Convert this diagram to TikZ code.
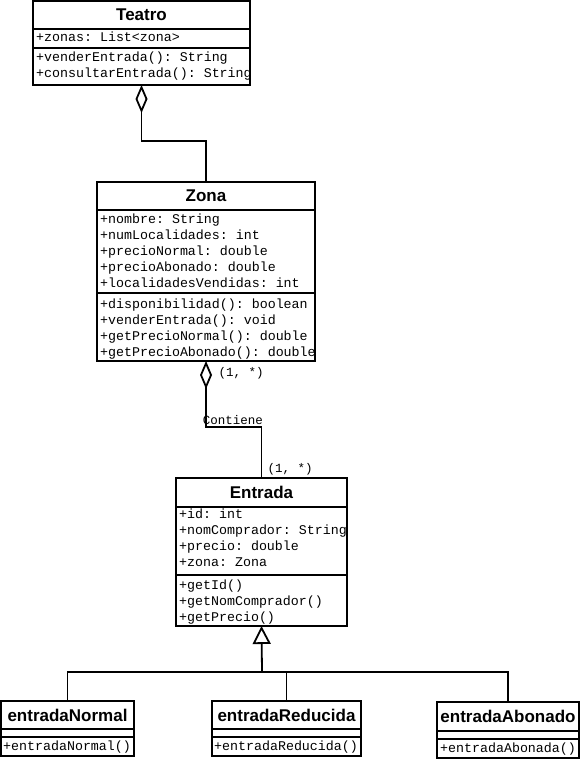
\documentclass[tikz,border=0pt]{standalone}
\usepackage{fontspec}
\setmainfont{Liberation Sans}
\setmonofont{Liberation Mono}
\usetikzlibrary{arrows.meta}
\newcommand\clsTitleFont{\normalfont\bfseries\fontsize{17}{20}\selectfont}
\newcommand\clsMemFont{\ttfamily\fontsize{13.3}{16}\selectfont}
\newcommand\clsLblFont{\ttfamily\fontsize{12.5}{15}\selectfont}
\tikzset{
  cls/.style={draw, line width=1.8pt, inner sep=0pt, outer sep=0pt, anchor=north west, fill=white, font=\clsTitleFont},
  mem/.style={anchor=base west, inner sep=0pt, font=\clsMemFont},
  lbl/.style={inner sep=0pt, font=\clsLblFont},
  conn/.style={line width=1.8pt},
  aggr/.style={conn, {Diamond[open, length=28pt, width=12pt, line width=1.8pt]}-},
  inher/.style={conn, -{Triangle[open, length=18pt, width=18pt, line width=1.8pt]}},
}
\begin{document}
\begin{tikzpicture}[x=1pt, y=-1pt]
\useasboundingbox (0,0) rectangle (582,759);
% ---------------- Teatro
\node[cls, minimum width=217pt, minimum height=28pt] (teatroT) at (33,1) {Teatro};
\node[cls, minimum width=217pt, minimum height=19pt] (teatroA) at (33,29) {};
\node[cls, minimum width=217pt, minimum height=37pt] (teatroO) at (33,48) {};
\node[mem] (t1) at (36,42) {+zonas: List<zona>};
\node[mem] (t2) at (36,62) {+venderEntrada(): String};
\node[mem] (t3) at (36,78) {+consultarEntrada(): String};
\draw[line width=1.8pt] (teatroO.north east) -- (teatroO.south east);
% ---------------- Zona
\node[cls, minimum width=218pt, minimum height=28pt] (zonaT) at (97,182) {Zona};
\node[cls, minimum width=218pt, minimum height=83pt] (zonaA) at (97,210) {};
\node[cls, minimum width=218pt, minimum height=68pt] (zonaO) at (97,293) {};
\node[mem] (z1) at (100,223) {+nombre: String};
\node[mem] (z2) at (100,239) {+numLocalidades: int};
\node[mem] (z3) at (100,255) {+precioNormal: double};
\node[mem] (z4) at (100,271) {+precioAbonado: double};
\node[mem] (z5) at (100,287) {+localidadesVendidas: int};
\node[mem] (z6) at (100,308) {+disponibilidad(): boolean};
\node[mem] (z7) at (100,324) {+venderEntrada(): void};
\node[mem] (z8) at (100,340) {+getPrecioNormal(): double};
\node[mem] (z9) at (100,356) {+getPrecioAbonado(): double};
% ---------------- Entrada
\node[cls, minimum width=171pt, minimum height=29pt] (entT) at (176,478) {Entrada};
\node[cls, minimum width=171pt, minimum height=68pt] (entA) at (176,507) {};
\node[cls, minimum width=171pt, minimum height=51pt] (entO) at (176,575) {};
\node[mem] (e1) at (179,518) {+id: int};
\node[mem] (e2) at (179,534) {+nomComprador: String};
\node[mem] (e3) at (179,550) {+precio: double};
\node[mem] (e4) at (179,566) {+zona: Zona};
\node[mem] (e5) at (179,589) {+getId()};
\node[mem] (e6) at (179,605) {+getNomComprador()};
\node[mem] (e7) at (179,621) {+getPrecio()};
% ---------------- entradaNormal
\node[cls, minimum width=133pt, minimum height=28pt] (enNT) at (1,701) {entradaNormal};
\node[cls, minimum width=133pt, minimum height=8pt] (enNA) at (1,729) {};
\node[cls, minimum width=133pt, minimum height=19pt] (enNO) at (1,737) {};
\node[mem] (n1) at (3,750) {+entradaNormal()};
% ---------------- entradaReducida
\node[cls, minimum width=149pt, minimum height=28pt] (enRT) at (212,701) {entradaReducida};
\node[cls, minimum width=149pt, minimum height=8pt] (enRA) at (212,729) {};
\node[cls, minimum width=149pt, minimum height=19pt] (enRO) at (212,737) {};
\node[mem] (r1) at (214,750) {+entradaReducida()};
% ---------------- entradaAbonado
\node[cls, minimum width=142pt, minimum height=29pt] (enAT) at (437,702) {entradaAbonado};
\node[cls, minimum width=142pt, minimum height=8pt] (enAA) at (437,731) {};
\node[cls, minimum width=142pt, minimum height=19pt] (enAO) at (437,739) {};
\node[mem] (a1) at (440,752) {+entradaAbonada()};
% ---------------- connectors
\draw[aggr] (teatroO.south) -- ++(0,56) -| (zonaT.north);
\draw[aggr] (zonaO.south) -- ++(0,66) -| (entT.north);
\node[lbl] (m1) at (241,373) {(1, *)};
\node[lbl] (cont) at (233,420) {Contiene};
\node[lbl] (m2) at (290,469) {(1, *)};
\coordinate (junction) at (262,672);
\draw[conn] (enNT.north) |- (junction);
\draw[conn] (enRT.north) |- (junction);
\draw[conn] (enAT.north) |- (junction);
\draw[inher] (junction) -- (entO.south);
\end{tikzpicture}
\end{document}
